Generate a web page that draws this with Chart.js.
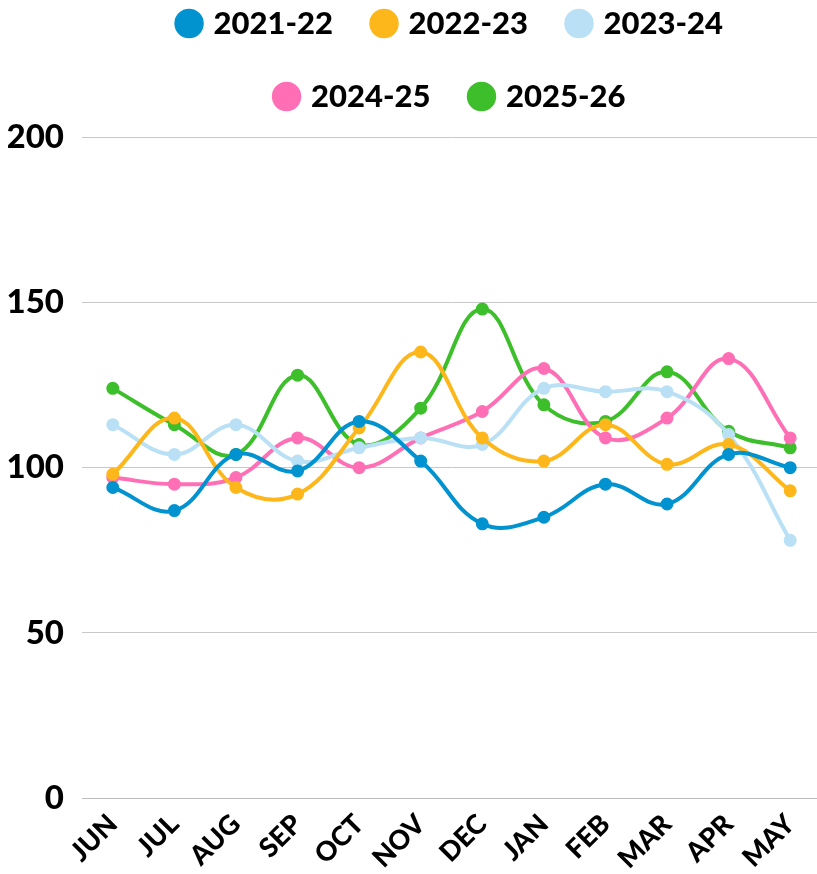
<!DOCTYPE html>
<html>
<head>
<meta charset="utf-8">
<script src="https://cdn.jsdelivr.net/npm/chart.js@4"></script>
<style>
  html, body { margin: 0; padding: 0; background: #fff; overflow: hidden; }
  #wrap { width: 830px; height: 874px; }
</style>
</head>
<body>
<div id="wrap"><canvas id="chart"></canvas></div>
<script>
const months = ['JUN', 'JUL', 'AUG', 'SEP', 'OCT', 'NOV', 'DEC', 'JAN', 'FEB', 'MAR', 'APR', 'MAY'];
const yTicks = [0, 50, 100, 150, 200];

const s2122 = [94, 87, 104, 99, 114, 102, 83, 85, 95, 89, 104, 100];
const s2223 = [98, 115, 94, 92, 112, 135, 109, 102, 113, 101, 107, 93];
const s2324 = [113, 104, 113, 102, 106, 109, 107, 124, 123, 123, 110, 78];
const s2425 = [97, 95, 97, 109, 100, 109, 117, 130, 109, 115, 133, 109];
const s2526 = [124, 113, 104, 128, 107, 118, 148, 119, 114, 129, 111, 106];

const SERIES = [
  ['2021-22', s2122, '#0192d0'],
  ['2022-23', s2223, '#fdb71a'],
  ['2023-24', s2324, '#b9e0f5'],
  ['2024-25', s2425, '#ff6fb5'],
  ['2025-26', s2526, '#3dbf2b'],
];

const FONT = 'Lato, "DejaVu Sans", sans-serif';

const datasets = SERIES.map(([label, data, color]) => ({
  label, data,
  borderColor: color, backgroundColor: color,
  borderWidth: 4, tension: 0.4,
  pointRadius: 4.5, pointHoverRadius: 5,
}));

new Chart(document.getElementById('chart'), {
  type: 'line',
  data: { labels: months, datasets },
  options: {
    responsive: true, maintainAspectRatio: false, animation: false,
    layout: { padding: { left: 8, right: 2, top: -34, bottom: -3 } },
    plugins: {
      legend: {
        fullSize: false, weight: 3000,
        labels: {
          color: '#000', usePointStyle: true, pointStyle: 'circle',
          boxWidth: 18, boxHeight: 18, padding: 42,
          font: { family: FONT, size: 31, weight: '900' },
        },
      },
      // empty spacer between legend and plot
      title: { display: true, text: '', font: { size: 1 }, padding: { top: 7, bottom: 7 } },
      tooltip: { enabled: false },
    },
    scales: {
      x: {
        offset: true,
        afterFit: (s) => { s.paddingLeft = 0; s.paddingRight = 0; },
        grid: { display: false },
        border: { display: true, color: '#bbb' },
        ticks: { color: '#000', maxRotation: 45, minRotation: 45, padding: 2,
          font: { family: FONT, size: 27, weight: '900' } },
      },
      y: {
        min: 0, max: 200,
        afterBuildTicks: (ax) => { ax.ticks = yTicks.map((v) => ({ value: v })); },
        afterFit: (s) => { s.width = 74; },
        grid: { color: '#c8c8c8', drawTicks: false },
        border: { display: false },
        ticks: { color: '#000', padding: 18,
          font: { family: FONT, size: 33, weight: '900' } },
      },
    },
  },
});
</script>
</body>
</html>
